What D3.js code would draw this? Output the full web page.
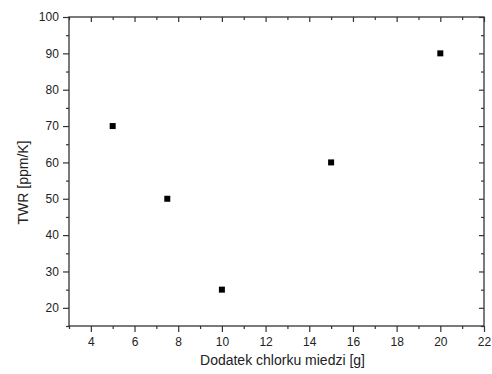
<!DOCTYPE html>
<html>
<head>
<meta charset="utf-8">
<script src="https://cdn.jsdelivr.net/npm/d3@7"></script>
<style>
  body { margin: 0; background: #fff; }
  text { font-family: "Liberation Sans", Arial, sans-serif; fill: #222; }
</style>
</head>
<body>
<div id="container"></div>
<script>
// data
const additive = [5, 7.5, 10, 15, 20];
const twr = [70, 50, 25, 60, 90];
const xTicks = [4, 6, 8, 10, 12, 14, 16, 18, 20, 22];
const yTicks = [20, 30, 40, 50, 60, 70, 80, 90, 100];

const W = 492, H = 374;
const margin = {top: 17, right: 8, bottom: 48, left: 69};
const width = W - margin.left - margin.right,
  height = H - margin.top - margin.bottom;

const svg = d3.select("#container")
  .append("svg")
    .attr("width", W)
    .attr("height", H)
  .append("g")
    .attr("transform", `translate(${margin.left},${margin.top})`);

const x = d3.scaleLinear().domain([3, 22]).range([0, width]);
const y = d3.scaleLinear().domain([15, 100]).range([height, 0]);

const xMinor = d3.range(3, 22, 2);
const yMinor = d3.range(15, 100, 10);

// helper: draw an axis with major + minor ticks
function axisWith(gen, scale, major, minor, majorLen, minorLen, labels) {
  return g => {
    g.call(gen(scale).tickValues(minor).tickSize(minorLen).tickFormat(""));
    const m = g.append("g").call(gen(scale).tickValues(major).tickSize(majorLen)
      .tickFormat(labels ? d3.format("d") : ""));
    m.select(".domain").remove();
    g.selectAll("path, line").attr("stroke", "#333").attr("stroke-width", 1.2);
    g.selectAll("text").attr("font-size", 12).attr("fill", "#222");
  };
}

// bottom (ticks out)
svg.append("g").attr("transform", `translate(0,${height})`)
  .call(axisWith(d3.axisBottom, x, xTicks, xMinor, 6, 3, true))
  .selectAll("text").attr("dy", "0.95em");
// top (ticks in)
svg.append("g")
  .call(axisWith(d3.axisBottom, x, xTicks, xMinor, 5, 3, false));
// left (ticks out)
svg.append("g")
  .call(axisWith(d3.axisLeft, y, yTicks, yMinor, 6, 3, true))
  .selectAll("text").attr("dx", "-0.1em");
// right (ticks in)
svg.append("g").attr("transform", `translate(${width},0)`)
  .call(axisWith(d3.axisLeft, y, yTicks, yMinor, 5, 3, false));

svg.selectAll(".domain").attr("d", null);
svg.append("rect")
  .attr("width", width).attr("height", height)
  .attr("fill", "none").attr("stroke", "#333").attr("stroke-width", 1.3);

// points
const pts = additive.map((d, i) => ({x: d, y: twr[i]}));
svg.selectAll("rect.pt")
  .data(pts)
  .join("rect")
    .attr("class", "pt")
    .attr("x", d => x(d.x) - 3)
    .attr("y", d => y(d.y) - 3)
    .attr("width", 6)
    .attr("height", 6)
    .attr("fill", "#000");

// axis titles
svg.append("text")
  .attr("x", width / 2 + 6)
  .attr("y", height + 39)
  .attr("text-anchor", "middle")
  .attr("font-size", 14)
  .text("Dodatek chlorku miedzi [g]");

svg.append("text")
  .attr("transform", `translate(${-41},${height / 2 + 11}) rotate(-90)`)
  .attr("text-anchor", "middle")
  .attr("font-size", 14)
  .text("TWR [ppm/K]");
</script>
</body>
</html>
